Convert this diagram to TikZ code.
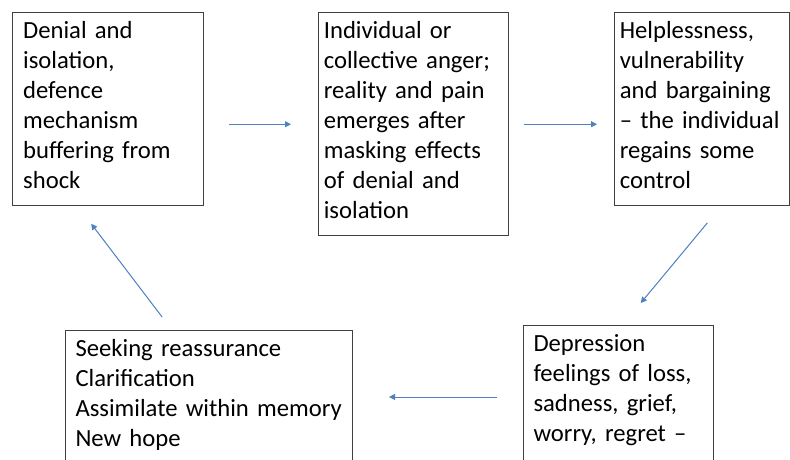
\documentclass[tikz,border=0pt]{standalone}
\usepackage{fontspec}
\setmainfont{Carlito}
\definecolor{griefBlue}{RGB}{79, 129, 189}
\definecolor{griefEdge}{RGB}{64, 64, 64}
\usetikzlibrary{arrows.meta, calc}

\begin{document}
\begin{tikzpicture}[
    x=0.75pt, y=-0.75pt,
    stage/.style={draw=griefEdge, line width=0.75pt, anchor=north west, align=left,
                  inner ysep=6.5pt, font=\fontsize{18.5}{22.5}\selectfont},
    arr/.style={-{Triangle[length=4.5pt, width=4.5pt]}, line width=0.75pt, griefBlue}
  ]
    \path[use as bounding box, fill=white] (0,0) rectangle (790,460);
    \clip (0,0) rectangle (790,460);

    \node[stage, inner xsep=8pt, text width=127.25pt] (denial) at (12,12)
      {Denial and\\ isolation,\\ defence\\ mechanism\\ buffering from\\ shock\strut};
    \node[stage, inner xsep=4pt, text width=134.5pt] (anger) at (318,12)
      {Individual or\\ collective anger;\\ reality and pain\\ emerges after\\ masking effects\\ of denial and\\ isolation\strut};
    \node[stage, inner xsep=4pt, text width=123.25pt] (bargain) at (614,12)
      {Helplessness,\\ vulnerability\\ and bargaining\\ \mbox{-- the individual}\\ regains some\\ control\strut};
    \node[stage, inner xsep=7.5pt, text width=127.5pt, text depth=150pt] (depress) at (523,325)
      {Depression\\ feelings of loss,\\ sadness, grief,\\ worry, regret --};
    \node[stage, inner xsep=7.5pt, text width=200.25pt, text depth=150pt] (hope) at (65,330)
      {Seeking reassurance\\ Clarification\\ Assimilate within memory\\ New hope};

    % cycle of stages
    \draw[arr, shorten <=18.75pt, shorten >=20.25pt] (denial.east |- anger.west) -- (anger.west);
    \draw[arr, shorten <=11.25pt, shorten >=12.75pt] (anger.east) -- (bargain.west |- anger.east);
    \draw[arr, shorten <=16pt, shorten >=21.4pt] ($(bargain.south)+(19,0)$) -- ($(depress.north)+(4,0)$);
    \draw[arr, shorten <=19.5pt, shorten >=27pt] ([yshift=-54pt]depress.north west) -- ([yshift=-50.25pt]hope.north east);
    \draw[arr, shorten <=12.2pt, shorten >=16.3pt] ($(hope.north west)+(107,0)$) -- ($(denial.south west)+(66,0)$);
  \end{tikzpicture}
\end{document}
